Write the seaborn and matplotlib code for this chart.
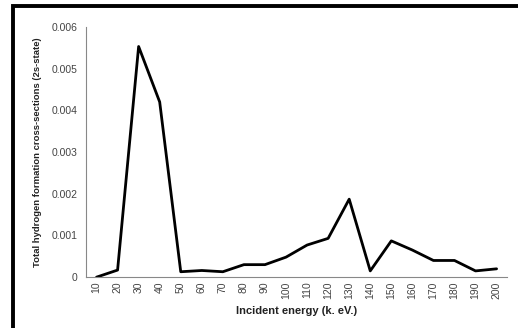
import numpy as np
import pandas as pd
import seaborn as sns
import matplotlib.pyplot as plt
from matplotlib.patches import Rectangle

# values
energy = [10, 20, 30, 40, 50, 60, 70, 80, 90, 100,
          110, 120, 130, 140, 150, 160, 170, 180, 190, 200]
cross_section = [0.0, 0.00017, 0.00553, 0.0042, 0.00013, 0.00016, 0.00013, 0.0003, 0.0003, 0.00048,
                 0.00077, 0.00093, 0.00187, 0.00015, 0.00087, 0.00065, 0.0004, 0.0004, 0.00015, 0.0002]
y_ticks = [0, 0.001, 0.002, 0.003, 0.004, 0.005, 0.006]
y_tick_labels = ["0", "0.001", "0.002", "0.003", "0.004", "0.005", "0.006"]

df = pd.DataFrame({"energy": [str(e) for e in energy], "sigma": cross_section})

sns.set_style("white")
plt.rcParams['font.family'] = ['Liberation Sans', 'DejaVu Sans']

fig = plt.figure(figsize=(5.18, 3.28), dpi=100)
ax = fig.add_axes([0.166, 0.155, 0.813, 0.763])

sns.pointplot(data=df, x="energy", y="sigma", color="black", markers="",
              linewidth=2.0, errorbar=None, ax=ax)

ax.set_xlim(-0.5, len(energy) - 0.5)
ax.set_ylim(0, 0.006)
ax.set_yticks(y_ticks)
ax.set_yticklabels(y_tick_labels)

# Excel-like tick marks between categories
ax.set_xticks(np.arange(-0.5, len(energy), 1.0), minor=True)
ax.tick_params(axis="x", which="major", length=0, pad=3, labelsize=7.5,
               labelcolor="#444444", rotation=90)
ax.tick_params(axis="x", which="minor", length=3, color="#888888", width=0.8, direction="out")
ax.tick_params(axis="y", length=3, color="#888888", width=0.8, direction="out",
               labelsize=7.5, labelcolor="#444444", pad=3)

for side in ["top", "right"]:
    ax.spines[side].set_visible(False)
for side in ["left", "bottom"]:
    ax.spines[side].set_color("#888888")
    ax.spines[side].set_linewidth(0.8)

ax.set_xlabel("Incident energy (k. eV.)", fontsize=8, fontweight="bold", color="#222222", labelpad=5)
ax.set_ylabel("Total hydrogen formation cross-sections (2s-state)", fontsize=6.8,
              fontweight="bold", color="#222222", labelpad=7)

# thick chart border (only left and top visible in the crop)
fig.patches.append(Rectangle((13 / 518, -0.1), 1.1, 1 - 6 / 328 + 0.1, transform=fig.transFigure,
                             fill=False, edgecolor="black", linewidth=2.8))

fig.savefig("out.png", dpi=100)
